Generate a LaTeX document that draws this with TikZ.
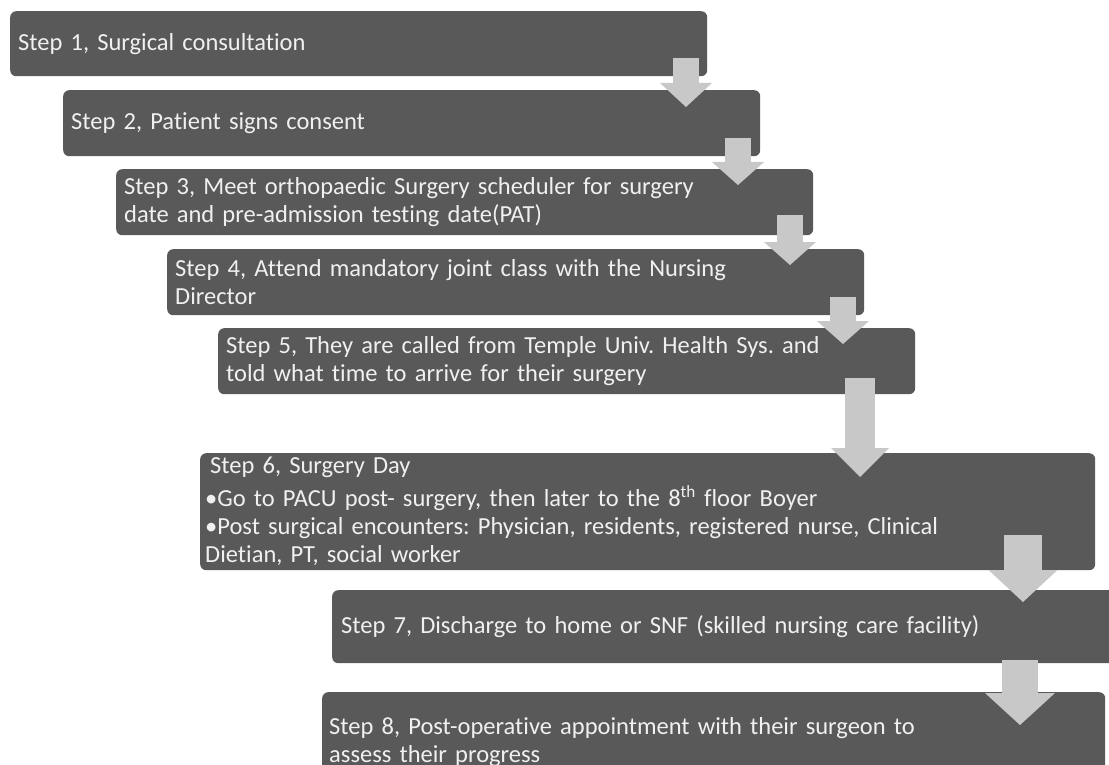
\documentclass[tikz,border=0pt]{standalone}
\usepackage{fontspec}
\setmainfont{Carlito}[RawFeature={-liga;-clig;-dlig;-calt}]
\usetikzlibrary{arrows.meta}
\definecolor{boxgray}{HTML}{595959}
\definecolor{arrowgray}{HTML}{C8C8C8}
\definecolor{textwhite}{HTML}{F0F0F0}
\frenchspacing

\begin{document}
\begin{tikzpicture}[
  x=1pt,
  y=-1pt,
  stepbox/.style={
    rectangle,
    rounded corners=6pt,
    fill=boxgray,
    text=textwhite,
    anchor=north west,
    align=left,
    inner xsep=8pt,
    inner ysep=0pt,
    minimum width=697pt,
    minimum height=66pt,
    text width=681pt,
    font=\fontsize{24.5}{28}\selectfont
  },
  flowarrow/.style n args={3}{
    draw=arrowgray,
    line width=#1,
    -{Triangle[width=#2,length=#3,line width=0pt]}
  }
]

\useasboundingbox (0,0) rectangle (1109,765);
\clip (0,0) rectangle (1109,765);

% ---------------------------------------------------------------------------
% Steps 1--5: staircase of equal boxes
% ---------------------------------------------------------------------------
\node[stepbox, minimum height=65pt] (s1) at (10,11) {Step 1, Surgical consultation};
\node[stepbox] (s2) at (63,90) {Step 2, Patient signs consent};
\node[stepbox] (s3) at (116,169) {Step 3, Meet orthopaedic Surgery scheduler for surgery\\
  date and pre-admission testing date(PAT)};
\node[stepbox] (s4) at (167,249) {Step 4, Attend mandatory joint class with the Nursing\\
  Director};
\node[stepbox] (s5) at (218,328) {Step 5, They are called from Temple Univ. Health Sys. and\\
  told what time to arrive for their surgery};

% ---------------------------------------------------------------------------
% Step 6: surgery day, with its two bullets
% ---------------------------------------------------------------------------
\node[stepbox, minimum width=895pt, minimum height=117pt, text width=885pt,
  inner xsep=5pt] (s6) at (200,453) {\hspace*{5pt}Step 6, Surgery Day\par\vspace{5pt}
  \hangindent=17pt\hangafter=1 •Go to PACU post- surgery, then later to the 8\textsuperscript{th} floor Boyer\par
  \hangindent=17pt\hangafter=1 •Post surgical encounters: Physician, residents, registered nurse, Clinical\\
  Dietian, PT, social worker};

% ---------------------------------------------------------------------------
% Steps 7--8: run off the right and bottom edges
% ---------------------------------------------------------------------------
\node[stepbox, minimum width=800pt, minimum height=73pt, text width=782pt,
  inner xsep=9pt] (s7) at (332,590) {Step 7, Discharge to home or SNF (skilled nursing care facility)};
\node[stepbox, minimum width=783pt, minimum height=100pt, text width=769pt,
  inner xsep=7pt] (s8) at (322,692) {Step 8, Post-operative appointment with their surgeon to\\
  assess their progress};

% Block arrows, laid over the boxes.
\coordinate (a1s) at (686,58);  \coordinate (a1e) at (686,107);
\coordinate (a2s) at (738,138); \coordinate (a2e) at (738,185);
\coordinate (a3s) at (790,215); \coordinate (a3e) at (790,265);
\coordinate (a4s) at (843,297); \coordinate (a4e) at (843,344);
\coordinate (a5s) at (860,378); \coordinate (a5e) at (860,477);
\coordinate (a6s) at (1023,535); \coordinate (a6e) at (1023,602);
\coordinate (a7s) at (1020,660); \coordinate (a7e) at (1020,725);

\draw[flowarrow={26pt}{52pt}{24pt}] (a1s) -- (a1e);
\draw[flowarrow={26pt}{52pt}{23pt}] (a2s) -- (a2e);
\draw[flowarrow={26pt}{52pt}{23pt}] (a3s) -- (a3e);
\draw[flowarrow={26pt}{52pt}{23pt}] (a4s) -- (a4e);
\draw[flowarrow={30pt}{58pt}{29pt}] (a5s) -- (a5e);
\draw[flowarrow={38pt}{69pt}{32pt}] (a6s) -- (a6e);
\draw[flowarrow={36pt}{70pt}{32pt}] (a7s) -- (a7e);

\end{tikzpicture}
\end{document}
